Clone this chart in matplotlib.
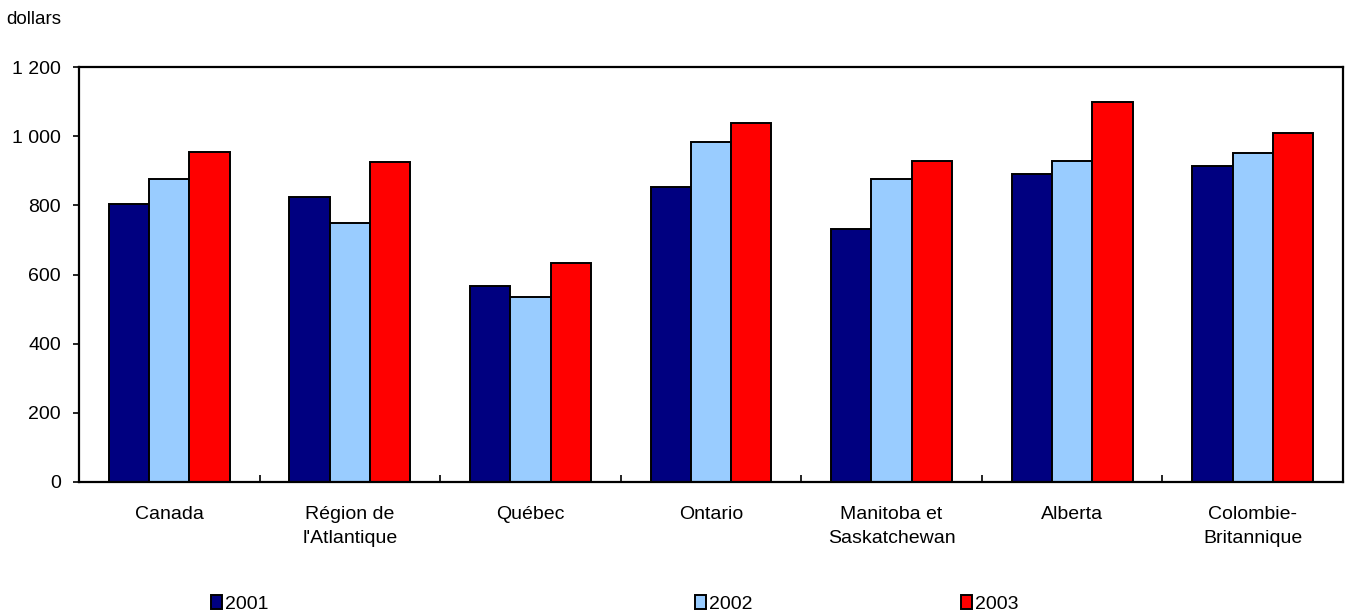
import matplotlib
matplotlib.use("Agg")
import matplotlib.pyplot as plt
import numpy as np
from matplotlib.patches import Patch
from matplotlib.ticker import FuncFormatter, FixedLocator

plt.rcParams["font.family"] = ["Liberation Sans", "DejaVu Sans"]

CATEGORIES = [
    "Canada",
    "Région de\nl'Atlantique",
    "Québec",
    "Ontario",
    "Manitoba et\nSaskatchewan",
    "Alberta",
    "Colombie-\nBritannique",
]
YEARS = ["2001", "2002", "2003"]
VALUES_2001 = [804, 823, 567, 852, 732, 890, 915]
VALUES_2002 = [875, 749, 536, 982, 875, 929, 950]
VALUES_2003 = [955, 926, 633, 1037, 929, 1100, 1010]
COLORS = ["#000080", "#99CCFF", "#FF0000"]
Y_TICKS = [0, 200, 400, 600, 800, 1000, 1200]

fig = plt.figure(figsize=(13.46, 6.14), dpi=100)
ax = fig.add_axes([79 / 1346, 1 - 482 / 614, (1343 - 79) / 1346, (482 - 67) / 614])

x = np.arange(len(CATEGORIES))
width = 0.223
series = [VALUES_2001, VALUES_2002, VALUES_2003]
for i, (vals, color) in enumerate(zip(series, COLORS)):
    ax.bar(x + (i - 1) * width, vals, width, color=color,
           edgecolor="black", linewidth=1.4, zorder=2)

ax.set_xlim(-0.5, len(CATEGORIES) - 0.5)
ax.set_ylim(0, 1200)
ax.set_yticks(Y_TICKS)
ax.yaxis.set_major_formatter(FuncFormatter(lambda v, _: f"{v:,.0f}".replace(",", " ")))
ax.tick_params(axis="y", direction="out", length=4, width=1.2, pad=9, labelsize=14)

ax.set_xticks(x)
ax.set_xticklabels(CATEGORIES, fontsize=14, linespacing=1.6)
ax.tick_params(axis="x", which="major", length=0, pad=17)
ax.xaxis.set_minor_locator(FixedLocator(x[:-1] + 0.5))
ax.tick_params(axis="x", which="minor", direction="in", length=5, width=1.2)

for spine in ax.spines.values():
    spine.set_linewidth(1.6)
    spine.set_color("black")

fig.text(6 / 1346, 1 - 20 / 614, "dollars", fontsize=13.5, va="center", ha="left")

legend_x = [211, 695, 961]
for year, color, lx in zip(YEARS, COLORS, legend_x):
    handle = Patch(facecolor=color, edgecolor="black", linewidth=1.4)
    fig.legend([handle], [year], loc="center left",
               bbox_to_anchor=(lx / 1346, 1 - 604 / 614),
               frameon=False, fontsize=14, handlelength=0.55,
               handleheight=0.7, handletextpad=0.15, borderpad=0,
               borderaxespad=0)

fig.savefig("out.png", dpi=100)
